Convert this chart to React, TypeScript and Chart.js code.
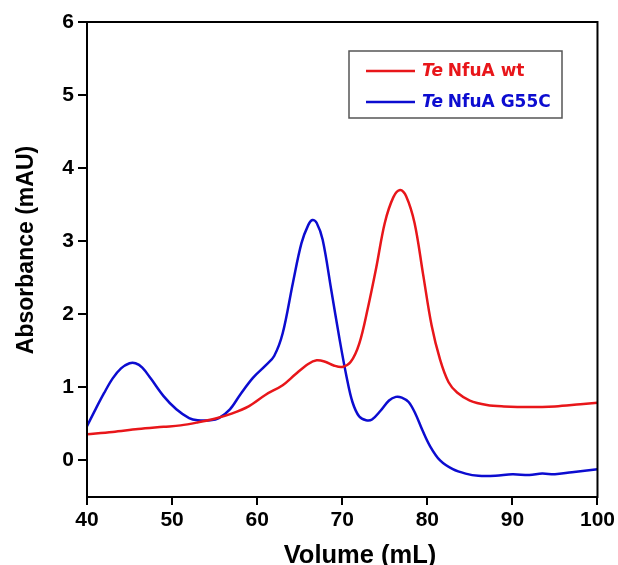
import React, { useEffect, useRef } from "react";
import { Chart, registerables } from "chart.js";

Chart.register(...registerables);

// Elution volume (mL) and absorbance (mAU) for the wild-type protein
const wtVolume = [40, 43, 46, 49, 51, 53, 55, 57, 59, 61, 63, 64.5, 66, 67, 68, 69, 70, 71, 72, 73, 74, 75, 76, 76.8, 77.5, 78.5, 79.5, 80.5, 81.5, 82.5, 83.5, 85, 87, 89, 92, 95, 98, 100];
const wtAbsorbance = [0.36, 0.39, 0.43, 0.46, 0.48, 0.52, 0.57, 0.64, 0.74, 0.9, 1.03, 1.18, 1.32, 1.37, 1.35, 1.3, 1.28, 1.35, 1.6, 2.08, 2.64, 3.25, 3.6, 3.7, 3.62, 3.25, 2.55, 1.85, 1.38, 1.07, 0.93, 0.82, 0.76, 0.74, 0.73, 0.74, 0.77, 0.79];

// Elution volume (mL) and absorbance (mAU) for the G55C variant
const g55cVolume = [40, 41, 42, 43, 44, 45, 45.7, 46.5, 47.5, 49, 50.5, 52, 53, 54.5, 55.5, 56.8, 58, 59.5, 61, 62, 63, 64.2, 65.2, 66, 66.5, 67, 67.7, 68.7, 69.7, 70.5, 71.2, 72, 72.8, 73.5, 74.5, 75.5, 76.3, 77, 77.8, 78.6, 79.4, 80.3, 81.5, 83, 84.5, 86, 88, 90, 92, 93.5, 95, 97, 100];
const g55cAbsorbance = [0.47, 0.7, 0.92, 1.12, 1.26, 1.33, 1.33, 1.27, 1.12, 0.88, 0.7, 0.58, 0.55, 0.55, 0.58, 0.7, 0.9, 1.13, 1.3, 1.43, 1.74, 2.43, 2.97, 3.22, 3.29, 3.25, 3.02, 2.34, 1.65, 1.15, 0.8, 0.6, 0.55, 0.56, 0.68, 0.82, 0.87, 0.86, 0.8, 0.64, 0.42, 0.2, 0.0, -0.12, -0.18, -0.21, -0.21, -0.19, -0.2, -0.18, -0.19, -0.16, -0.12];

const xTicks = [40, 50, 60, 70, 80, 90, 100];
const yTicks = [0, 1, 2, 3, 4, 5, 6];

const seriesNames = ["NfuA wt", "NfuA G55C"];
const speciesPrefix = "Te";
const xTitle = "Volume (mL)";
const yTitle = "Absorbance (mAU)";

const RED = "rgb(232, 22, 26)";
const BLUE = "rgb(12, 12, 208)";
const AXIS_FONT = "'Liberation Sans', Arial, sans-serif";

const toPoints = (xs: number[], ys: number[]) => xs.map((x, i) => ({ x, y: ys[i] }));

// Closes the plot box, writes the axis titles and draws the boxed legend
const framePlugin = {
  id: "frameAndLegend",
  afterDraw(chart: any) {
    const { ctx, chartArea } = chart;
    const { left, right, top, bottom } = chartArea;
    ctx.save();
    ctx.strokeStyle = "#000";
    ctx.lineWidth = 2;
    ctx.strokeRect(left, top, right - left, bottom - top);

    // axis titles
    ctx.fillStyle = "#000";
    ctx.font = `bold 25.5px ${AXIS_FONT}`;
    ctx.textAlign = "center";
    ctx.textBaseline = "alphabetic";
    ctx.fillText(xTitle, 360, 563);

    ctx.save();
    ctx.translate(33, 250);
    ctx.rotate(-Math.PI / 2);
    ctx.font = `bold 23px ${AXIS_FONT}`;
    ctx.fillText(yTitle, 0, 0);
    ctx.restore();

    // legend box
    const bx = 349, by = 51, bw = 213, bh = 67;
    ctx.strokeStyle = "#555";
    ctx.lineWidth = 1.5;
    ctx.strokeRect(bx, by, bw, bh);

    const rows = [
      { color: RED, y: 71, name: seriesNames[0] },
      { color: BLUE, y: 102, name: seriesNames[1] },
    ];
    rows.forEach((r) => {
      ctx.strokeStyle = r.color;
      ctx.lineWidth = 2.5;
      ctx.beginPath();
      ctx.moveTo(366, r.y);
      ctx.lineTo(415, r.y);
      ctx.stroke();

      ctx.fillStyle = r.color;
      ctx.textBaseline = "middle";
      ctx.textAlign = "left";
      ctx.font = "italic bold 17px 'DejaVu Sans'";
      ctx.fillText(speciesPrefix, 422, r.y + 1);
      const w = ctx.measureText(speciesPrefix + " ").width;
      ctx.font = "bold 17px 'DejaVu Sans'";
      ctx.fillText(r.name, 422 + w - 1, r.y + 1);
    });
    ctx.restore();
  },
};

export default function App() {
  const canvasRef = useRef<HTMLCanvasElement | null>(null);

  useEffect(() => {
    if (!canvasRef.current) return;
    const tickFont = { family: AXIS_FONT, size: 21, weight: "bold" as const };

    const chart = new Chart(canvasRef.current, {
      type: "line",
      data: {
        datasets: [
          {
            label: `${speciesPrefix} ${seriesNames[0]}`,
            data: toPoints(wtVolume, wtAbsorbance),
            borderColor: RED,
            borderWidth: 2.5,
            pointRadius: 0,
            tension: 0.35,
            fill: false,
          },
          {
            label: `${speciesPrefix} ${seriesNames[1]}`,
            data: toPoints(g55cVolume, g55cAbsorbance),
            borderColor: BLUE,
            borderWidth: 2.5,
            pointRadius: 0,
            tension: 0.35,
            fill: false,
          },
        ],
      },
      options: {
        animation: false,
        responsive: false,
        maintainAspectRatio: false,
        layout: { padding: { left: 0, right: 20, top: 22, bottom: 0 } },
        plugins: {
          legend: { display: false },
          tooltip: { enabled: false },
        },
        scales: {
          x: {
            type: "linear",
            min: 40,
            max: 100,
            afterBuildTicks: (scale: any) => {
              scale.ticks = xTicks.map((v) => ({ value: v }));
            },
            afterFit: (scale: any) => {
              scale.height = 68;
            },
            grid: {
              drawOnChartArea: false,
              drawTicks: true,
              tickLength: 8,
              color: "#000",
              lineWidth: 2,
            },
            border: { display: false },
            ticks: {
              color: "#000",
              font: tickFont,
              padding: 3,
              maxRotation: 0,
              autoSkip: false,
            },
          },
          y: {
            type: "linear",
            min: -0.5,
            max: 6,
            afterBuildTicks: (scale: any) => {
              scale.ticks = yTicks.map((v) => ({ value: v }));
            },
            afterFit: (scale: any) => {
              scale.width = 87;
            },
            grid: {
              drawOnChartArea: false,
              drawTicks: true,
              tickLength: 9,
              color: "#000",
              lineWidth: 2,
            },
            border: { display: false },
            ticks: {
              color: "#000",
              font: tickFont,
              padding: 4,
              autoSkip: false,
            },
          },
        },
      },
      plugins: [framePlugin],
    });

    return () => chart.destroy();
  }, []);

  return (
    <div style={{ position: "absolute", left: 0, top: 0, width: 618, height: 565, background: "#fff" }}>
      <canvas ref={canvasRef} width={618} height={565} style={{ display: "block", width: 618, height: 565 }} />
    </div>
  );
}
